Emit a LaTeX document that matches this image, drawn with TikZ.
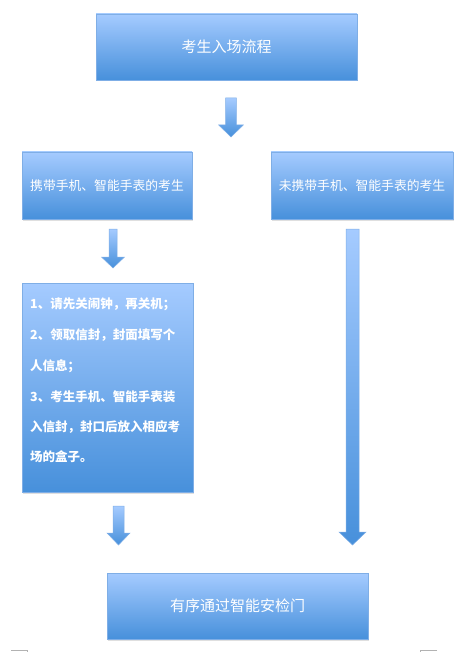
\documentclass[tikz,border=0pt]{standalone}
\usepackage{fontspec}
\setmainfont{Noto Sans CJK SC}
\usetikzlibrary{shadows}
\definecolor{topc}{HTML}{A5CBFF}
\definecolor{botc}{HTML}{4790DB}
\definecolor{edgec}{HTML}{7FAEE6}
\newcommand\blockarrow[6]{% cx, top, headstart, tip, shaft half, head half
  \shade[top color=topc,bottom color=botc,draw=edgec,line width=0.5pt]
    ({#1-#5},#2) -- ({#1+#5},#2) -- ({#1+#5},#3) -- ({#1+#6},#3) -- (#1,#4)
    -- ({#1-#6},#3) -- ({#1-#5},#3) -- cycle;}
\begin{document}
\begin{tikzpicture}[x=1pt,y=-1pt,
  box/.style={rectangle,draw=edgec,line width=0.6pt,top color=topc,bottom color=botc,
    drop shadow={opacity=0.25,shadow xshift=1pt,shadow yshift=-1.5pt},
    text=white,inner sep=0pt},
  steptext/.style={text=white,inner sep=0pt,anchor=base west,font=\bfseries\fontsize{12.5}{15}\selectfont}]
\useasboundingbox (0,0) rectangle (461,652);
\node[box,minimum width=261pt,minimum height=66pt,font=\fontsize{15}{18}\selectfont] (start) at (226.5,47) {考生入场流程};
\node[box,minimum width=170pt,minimum height=67pt,font=\fontsize{12.8}{15}\selectfont] (with) at (107,185.5) {携带手机、智能手表的考生};
\node[box,minimum width=182pt,minimum height=67pt,font=\fontsize{12.8}{15}\selectfont] (without) at (362,185.5) {未携带手机、智能手表的考生};
\node[box,minimum width=171pt,minimum height=209pt] (steps) at (107.5,387.5) {};
\node[box,minimum width=261pt,minimum height=66pt,font=\fontsize{15}{18}\selectfont] (gate) at (237.5,606) {有序通过智能安检门};
\node[steptext] (l1) at (30,308.5) {1、请先关闹钟，再关机；};
\node[steptext] (l2) at (30,339.5) {2、领取信封，封面填写个};
\node[steptext] (l3) at (30,370.5) {人信息；};
\node[steptext] (l4) at (30,401.5) {3、考生手机、智能手表装};
\node[steptext] (l5) at (30,431.5) {入信封，封口后放入相应考};
\node[steptext] (l6) at (30,461.5) {场的盒子。};
\blockarrow{231}{98}{125}{137}{5.3}{12.3}
\blockarrow{113}{229}{257}{268}{4}{11.5}
\blockarrow{118.5}{506}{533}{545}{5.5}{11.5}
\blockarrow{352.5}{229}{532}{545}{6.5}{13.5}
\draw[gray!60,line width=0.8pt] (11,650.5) -- (27,650.5) -- (27,652);
\draw[gray!60,line width=0.8pt] (437,650.5) -- (420,650.5) -- (420,652);
\end{tikzpicture}
\end{document}
